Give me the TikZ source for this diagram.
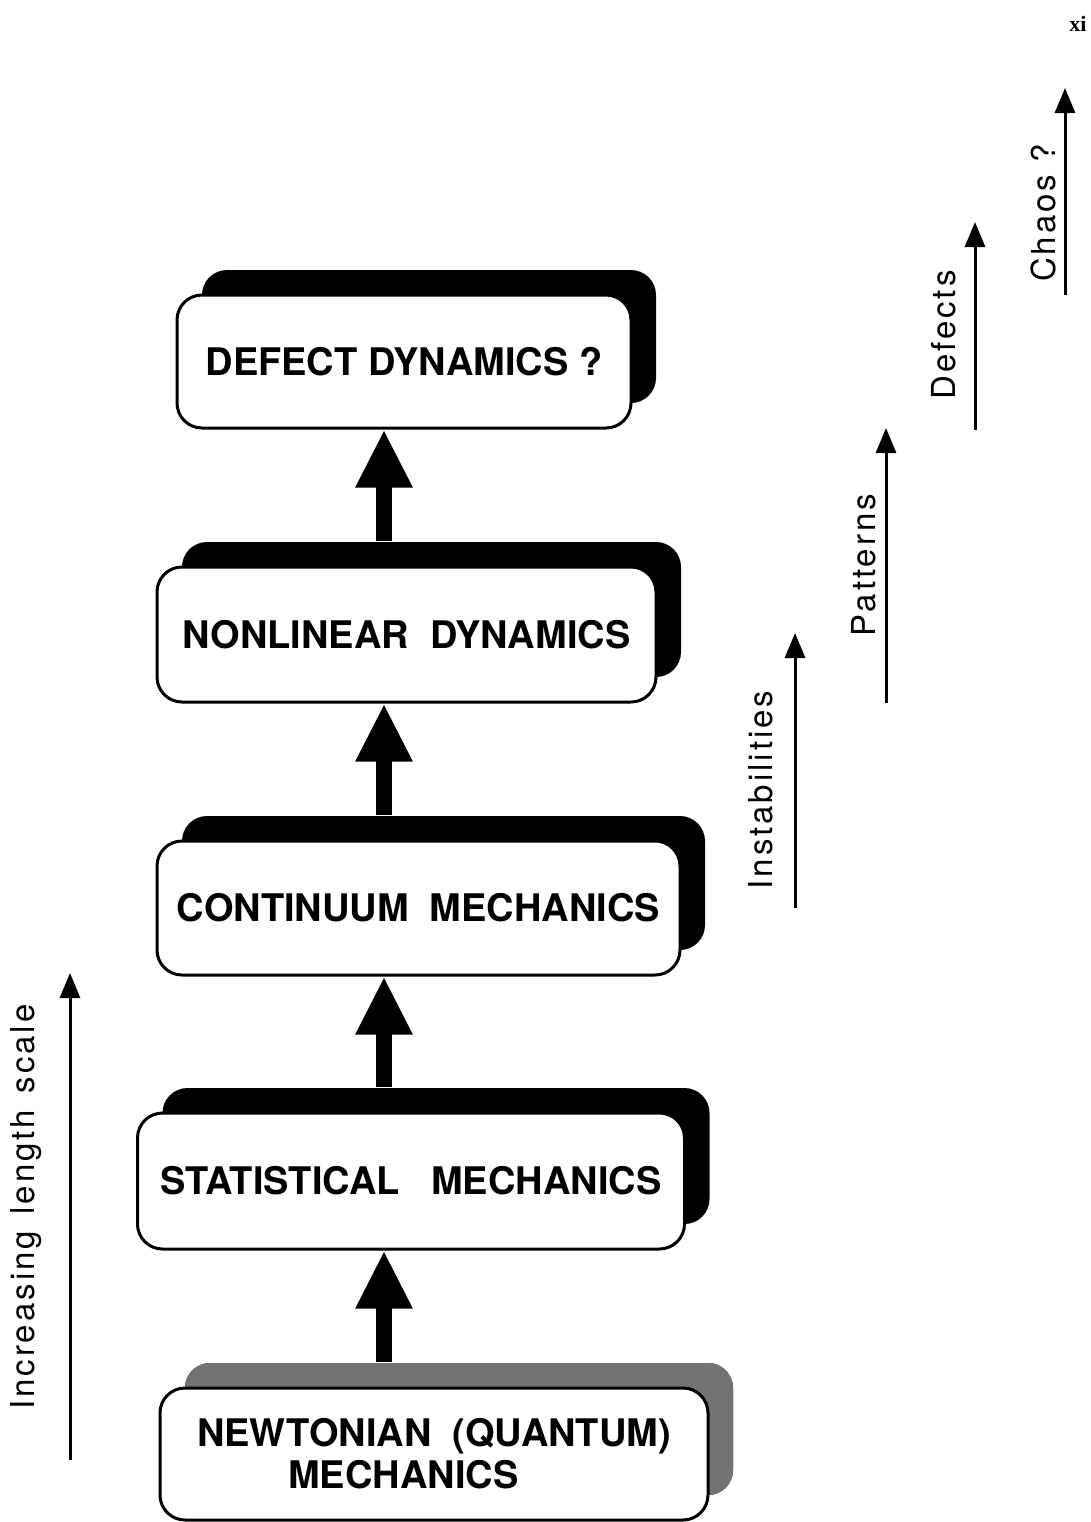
\documentclass[tikz,border=0pt]{standalone}
\usepackage{fontspec}
\setmainfont{TeX Gyre Heros}
\newfontfamily\sidefont{TeX Gyre Heros}[LetterSpace=9]
\newfontfamily\pagefont{Liberation Serif}
\usetikzlibrary{shadows,arrows.meta,calc}

\begin{document}
\begin{tikzpicture}[x=0.5pt,y=-0.5pt,
    level/.style={draw,line width=1.5pt,rounded corners=12.5pt,fill=white,inner sep=0pt,
      font=\fontsize{19}{21}\selectfont\bfseries,
      drop shadow={shadow xshift=12.5pt,shadow yshift=12.5pt,fill=black,opacity=1}},
    upward/.style={line width=8pt,-{Triangle[width=26.5pt,length=29pt]}},
    scalearrow/.style={line width=1.5pt,-{Triangle[width=10pt,length=12.5pt]}},
    sidelabel/.style={rotate=90,anchor=base,inner sep=0pt,font=\sidefont\fontsize{16.5}{19}\selectfont}]
      \useasboundingbox (0,0) rectangle (1091,1522);
      % the five levels
      \node[level,minimum width=227pt,minimum height=66.5pt] (defect) at (404,361.5) {DEFECT DYNAMICS ?};
      \node[level,minimum width=249.5pt,minimum height=67.5pt] (nonlin) at (406.5,634.5) {NONLINEAR~~DYNAMICS};
      \node[level,minimum width=261.5pt,minimum height=67pt] (contin) at (418.5,908) {CONTINUUM~~MECHANICS};
      \node[level,minimum width=273.5pt,minimum height=68pt] (stat) at (411,1181) {STATISTICAL~~~MECHANICS};
      \node[level,minimum width=274pt,minimum height=66pt,align=left,
        drop shadow={shadow xshift=12.5pt,shadow yshift=12.5pt,fill=black!55,opacity=1}] (newton) at (434,1454)
        {NEWTONIAN~~(QUANTUM)\\\hspace*{2.4em}MECHANICS};
      % thick arrows between the levels
      \coordinate (col) at (384,0);
      \draw[upward] ($(newton.north -| col)+(0,-25)$) -- (stat.south -| col);
      \draw[upward] ($(stat.north -| col)+(0,-25)$) -- (contin.south -| col);
      \draw[upward] ($(contin.north -| col)+(0,-25)$) -- (nonlin.south -| col);
      \draw[upward] ($(nonlin.north -| col)+(0,-25)$) -- (defect.south -| col);
      % length scale
      \coordinate (lenlow) at (70,1460);
      \coordinate (lenhigh) at (70,973);
      \draw[scalearrow] (lenlow) -- (lenhigh);
      \node[sidelabel] (lenlabel) at (34,1207) {Increasing\hspace{0.5em}length\hspace{0.5em}scale};
      % what appears along the way
      \coordinate (instlow) at (795,908);
      \coordinate (insthigh) at (795,633);
      \draw[scalearrow] (instlow) -- (insthigh);
      \node[sidelabel] (instlabel) at (772,790) {Instabilities};
      \coordinate (patlow) at (886,703);
      \coordinate (pathigh) at (886,428);
      \draw[scalearrow] (patlow) -- (pathigh);
      \node[sidelabel] (patlabel) at (875,565) {Patterns};
      \coordinate (deflow) at (975,430);
      \coordinate (defhigh) at (975,222);
      \draw[scalearrow] (deflow) -- (defhigh);
      \node[sidelabel] (deflabel) at (955,335) {Defects};
      \coordinate (chaoslow) at (1065,295);
      \coordinate (chaoshigh) at (1065,88);
      \draw[scalearrow] (chaoslow) -- (chaoshigh);
      \node[sidelabel] (chaoslabel) at (1055,213) {Chaos ?};
      \node[font=\pagefont\fontsize{11}{13}\selectfont\bfseries] (pagenum) at (1078,24) {xi};
\end{tikzpicture}
\end{document}
